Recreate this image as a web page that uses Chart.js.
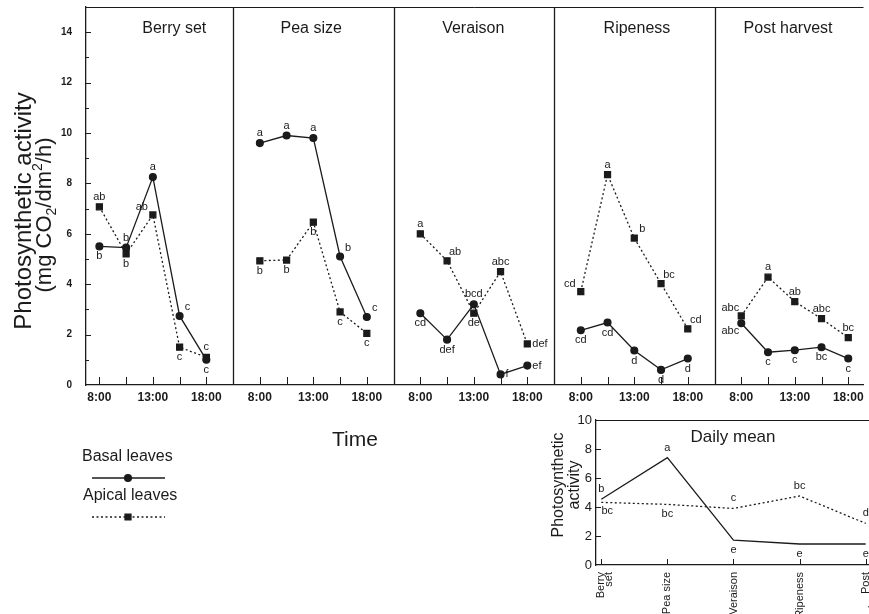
<!DOCTYPE html>
<html><head><meta charset="utf-8">
<script src="https://cdn.jsdelivr.net/npm/chart.js@4.4.1/dist/chart.umd.min.js"></script>
<style>
html,body{margin:0;padding:0;background:#fff;}
#wrap{position:relative;width:869px;height:614px;overflow:hidden;background:#fff;}
#main{position:absolute;left:0;top:0;}
#inset{position:absolute;left:530px;top:410px;}
</style></head><body>
<div id="wrap"><canvas id="main" width="869" height="614"></canvas><canvas id="inset" width="339" height="204"></canvas></div>
<script>
// ---------- DATA ----------
const stages = ['Berry set', 'Pea size', 'Veraison', 'Ripeness', 'Post harvest'];
const timeLabels = ['8:00', '', '13:00', '', '18:00'];
const yTickValues = [0, 2, 4, 6, 8, 10, 12, 14];

const basalBerrySet     = [5.5, 5.45, 8.25, 2.74, 1.0];
const basalPeaSize      = [9.6, 9.9, 9.8, 5.1, 2.7];
const basalVeraison     = [2.85, 1.8, 3.2, 0.42, 0.77];
const basalRipeness     = [2.17, 2.48, 1.37, 0.6, 1.05];
const basalPostHarvest  = [2.45, 1.3, 1.38, 1.5, 1.05];

const apicalBerrySet    = [7.07, 5.2, 6.75, 1.5, 1.1];
const apicalPeaSize     = [4.93, 4.96, 6.46, 2.9, 2.05];
const apicalVeraison    = [6.0, 4.93, 2.85, 4.5, 1.63];
const apicalRipeness    = [3.71, 8.35, 5.83, 4.02, 2.23];
const apicalPostHarvest = [2.74, 4.28, 3.31, 2.63, 1.88];

const basalLetters  = [['b','b','a','c','c'], ['a','a','a','b','c'], ['cd','def','bcd','f','ef'], ['cd','cd','d','d','d'], ['abc','c','c','bc','c']];
const apicalLetters = [['ab','b','ab','c','c'], ['b','b','b','c','c'], ['a','ab','de','abc','def'], ['cd','a','b','bc','cd'], ['abc','a','ab','abc','bc']];

const meanTickLabels = [['Berry','set'], 'Pea size', 'Veraison', 'Ripeness', ['Post','harvest']];
const meanBasal  = [4.53, 7.4, 1.72, 1.45, 1.45];
const meanApical = [4.32, 4.18, 3.9, 4.76, 2.87];
const meanBasalLetters  = ['b', 'a', 'e', 'e', 'e'];
const meanApicalLetters = ['bc', 'bc', 'c', 'bc', 'd'];

// ---------- LAYOUT / STYLE (not data) ----------
const basalPos  = [['b','a','a','ar','b'], ['a','a','a','ar','ar'], ['b','b','a','r','r'], ['b','b','b','b','b'], ['bl','b','b','b','b']];
const apicalPos = [['a','b','al','b','a'], ['b','b','b','b','b'], ['a','ar','b','a','r'], ['al','a','ar','ar','ar'], ['al','a','a','a','a']];
const meanBasalPos  = ['a','a','b','b','b'];
const meanApicalPos = ['br','b','a','a','a'];
const panelSlots = 6;
const titleOffsets = [3.8, 2.92, 2.98, 3.1, 2.75];

const FAM = '"Liberation Sans", Arial, Helvetica, sans-serif';
const INK = '#1b1b1b';
const offsets = {a:[0,-10,'center'], b:[0,10,'center'], ar:[8,-9,'center'], al:[-11,-8,'center'],
                 bl:[-11,8,'center'], br:[6,9,'center'], r:[5,0,'left'], l:[-5,0,'right']};

function build(panels, letters, pos) {
  const pts = [], lt = [], lp = [];
  panels.forEach((arr, i) => {
    arr.forEach((v, j) => { pts.push({x: i * panelSlots + j + 1, y: v}); lt.push(letters[i][j]); lp.push(pos[i][j]); });
    if (i < panels.length - 1) { pts.push({x: i * panelSlots + panelSlots, y: null}); lt.push(''); lp.push('a'); }
  });
  return {pts, lt, lp};
}
const basal = build([basalBerrySet, basalPeaSize, basalVeraison, basalRipeness, basalPostHarvest], basalLetters, basalPos);
const apical = build([apicalBerrySet, apicalPeaSize, apicalVeraison, apicalRipeness, apicalPostHarvest], apicalLetters, apicalPos);
const tickPositions = [];
stages.forEach((s, i) => { for (let j = 1; j <= 5; j++) tickPositions.push(i * panelSlots + j); });
const dividers = stages.slice(1).map((s, i) => (i + 1) * panelSlots);

function line(ctx, x1, y1, x2, y2) { ctx.beginPath(); ctx.moveTo(x1, y1); ctx.lineTo(x2, y2); ctx.stroke(); }

const letterPlugin = {
  id: 'letters',
  afterDatasetsDraw(chart, args, opts) {
    const ctx = chart.ctx;
    ctx.save();
    ctx.font = opts.font; ctx.fillStyle = INK; ctx.textBaseline = 'middle';
    chart.data.datasets.forEach((ds, i) => {
      const meta = chart.getDatasetMeta(i);
      meta.data.forEach((el, k) => {
        const t = ds.letters && ds.letters[k];
        if (!t) return;
        const p = offsets[ds.letterPos[k]] || offsets.a;
        ctx.textAlign = p[2];
        ctx.fillText(t, el.x + p[0], el.y + p[1]);
      });
    });
    ctx.restore();
  }
};

const framePlugin = {
  id: 'frame',
  beforeDatasetsDraw(chart, args, o) {
    const {ctx, chartArea: {left, right, top, bottom}, scales: {x, y}} = chart;
    ctx.save(); ctx.strokeStyle = INK; ctx.lineWidth = 1;
    line(ctx, left, top + 0.5, right, top + 0.5);
    (o.dividers || []).forEach(v => { const px = Math.round(x.getPixelForValue(v)) + 0.5; ctx.lineWidth = 1.3; line(ctx, px, top, px, bottom); });
    ctx.lineWidth = 1;
    x.ticks.forEach(t => { const px = Math.round(x.getPixelForValue(t.value)) + 0.5; line(ctx, px, bottom, px, bottom - o.xTick); });
    y.ticks.forEach(t => {
      if (t.value >= y.max || t.value <= y.min) return;
      const py = Math.round(y.getPixelForValue(t.value)) + 0.5;
      line(ctx, left, py, left + (t.value % 2 === 0 ? o.yMajor : o.yMinor), py);
    });
    ctx.restore();
  }
};

function drawRich(ctx, parts, cx, cy, size) {
  ctx.save(); ctx.translate(cx, cy); ctx.rotate(-Math.PI / 2);
  const small = Math.round(size * 0.62);
  const widths = parts.map(p => { ctx.font = (p[1] === 'n' ? size : small) + 'px ' + FAM; return ctx.measureText(p[0]).width; });
  const total = widths.reduce((a, b) => a + b, 0);
  let xx = -total / 2;
  ctx.textAlign = 'left'; ctx.textBaseline = 'alphabetic';
  parts.forEach((p, i) => {
    ctx.font = (p[1] === 'n' ? size : small) + 'px ' + FAM;
    const dy = p[1] === 'sub' ? size * 0.22 : p[1] === 'sup' ? -size * 0.42 : 0;
    ctx.fillText(p[0], xx, dy); xx += widths[i];
  });
  ctx.restore();
}

const mainText = {
  id: 'mainText',
  afterDraw(chart) {
    const ctx = chart.ctx, x = chart.scales.x;
    ctx.save(); ctx.fillStyle = INK;
    ctx.font = '16px ' + FAM; ctx.textAlign = 'center'; ctx.textBaseline = 'middle';
    stages.forEach((s, i) => ctx.fillText(s, x.getPixelForValue(i * panelSlots + titleOffsets[i]), 29));
    drawRich(ctx, [['Photosynthetic activity', 'n']], 31, 211, 24);
    drawRich(ctx, [['(mg CO', 'n'], ['2', 'sub'], ['/dm', 'n'], ['2', 'sup'], ['/h)', 'n']], 51, 215, 22);
    ctx.font = '21px ' + FAM; ctx.textAlign = 'center';
    ctx.fillText('Time', 355, 440);
    const ds = chart.data.datasets;
    ctx.font = '16px ' + FAM; ctx.textAlign = 'left';
    ctx.fillText(ds[0].label, 82, 457);
    ctx.fillText(ds[1].label, 83, 496);
    [[478, ds[0]], [517, ds[1]]].forEach(([yy, d]) => {
      ctx.strokeStyle = d.borderColor; ctx.lineWidth = d.borderWidth; ctx.setLineDash(d.borderDash || []);
      line(ctx, 92, yy, 165, yy);
      ctx.setLineDash([]); ctx.fillStyle = d.pointBackgroundColor; ctx.strokeStyle = d.pointBorderColor;
      Chart.helpers.drawPoint(ctx, {pointStyle: d.pointStyle, radius: d.pointRadius, rotation: 0, borderWidth: 1}, 128, yy);
      ctx.fillStyle = INK;
    });
    ctx.restore();
  }
};

new Chart(document.getElementById('main'), {
  type: 'line',
  data: {
    datasets: [
      {label: 'Basal leaves', data: basal.pts, letters: basal.lt, letterPos: basal.lp,
       borderColor: INK, borderWidth: 1.3, pointStyle: 'circle', pointRadius: 3.4,
       pointBackgroundColor: INK, pointBorderColor: INK, spanGaps: false, tension: 0},
      {label: 'Apical leaves', data: apical.pts, letters: apical.lt, letterPos: apical.lp,
       borderColor: INK, borderWidth: 1.3, borderDash: [2, 2.5], pointStyle: 'rect', pointRadius: 4.2,
       pointBackgroundColor: INK, pointBorderColor: INK, spanGaps: false, tension: 0}
    ]
  },
  options: {
    responsive: false, animation: false, devicePixelRatio: 1,
    layout: {padding: {top: 7, left: 0, right: 0, bottom: 0}},
    plugins: {legend: {display: false}, tooltip: {enabled: false},
      letters: {font: '11px ' + FAM},
      frame: {dividers: dividers, xTick: 8, yMajor: 5, yMinor: 3}},
    scales: {
      x: {type: 'linear', min: 0.5, max: 29.57,
        afterBuildTicks: s => { s.ticks = tickPositions.map(v => ({value: v})); },
        afterFit: s => { s.height = 614 - 385; s.paddingLeft = 0; s.paddingRight = 0; },
        grid: {display: false, drawTicks: false},
        border: {display: true, color: INK, width: 1.3},
        ticks: {autoSkip: false, maxRotation: 0, minRotation: 0, padding: 5, color: INK,
          font: {family: FAM, size: 12, weight: 'bold'},
          callback: v => timeLabels[(Math.round(v) - 1) % panelSlots]}},
      y: {min: 0, max: 15,
        afterBuildTicks: s => { const t = []; for (let v = 0; v <= 15; v++) t.push({value: v}); s.ticks = t; },
        afterFit: s => { s.width = 86; s.paddingTop = 0; s.paddingBottom = 0; },
        grid: {display: false, drawTicks: false},
        border: {display: true, color: INK, width: 1.3},
        ticks: {padding: 14, color: INK, font: {family: FAM, size: 10, weight: 'bold'},
          callback: v => yTickValues.includes(v) ? String(v) : ''}}
    }
  },
  plugins: [framePlugin, letterPlugin, mainText]
});

const insetText = {
  id: 'insetText',
  afterDraw(chart) {
    const ctx = chart.ctx;
    ctx.save(); ctx.fillStyle = INK;
    ctx.font = '17px ' + FAM; ctx.textAlign = 'center'; ctx.textBaseline = 'middle';
    ctx.fillText('Daily mean', 203, 27);
    drawRich(ctx, [['Photosynthetic', 'n']], 33, 75, 16);
    drawRich(ctx, [['activity', 'n']], 49, 75, 16);
    ctx.restore();
  }
};

new Chart(document.getElementById('inset'), {
  type: 'line',
  data: {
    datasets: [
      {label: 'Basal leaves', data: meanBasal.map((v, i) => ({x: i, y: v})), letters: meanBasalLetters, letterPos: meanBasalPos,
       borderColor: INK, borderWidth: 1.3, pointRadius: 0, tension: 0},
      {label: 'Apical leaves', data: meanApical.map((v, i) => ({x: i, y: v})), letters: meanApicalLetters, letterPos: meanApicalPos,
       borderColor: INK, borderWidth: 1.3, borderDash: [2, 2.5], pointRadius: 0, tension: 0}
    ]
  },
  options: {
    responsive: false, animation: false, devicePixelRatio: 1,
    layout: {padding: {top: 10, left: 0, right: 0, bottom: 0}},
    plugins: {legend: {display: false}, tooltip: {enabled: false},
      letters: {font: '11px ' + FAM},
      frame: {dividers: [], xTick: 6, yMajor: 5, yMinor: 3}},
    scales: {
      x: {type: 'linear', min: -0.08, max: 4.05,
        afterBuildTicks: s => { s.ticks = meanTickLabels.map((l, i) => ({value: i})); },
        afterFit: s => { s.height = 204 - 155; s.paddingLeft = 0; s.paddingRight = 0; },
        grid: {display: false, drawTicks: false},
        border: {display: true, color: INK, width: 1.3},
        ticks: {autoSkip: false, maxRotation: 90, minRotation: 90, padding: 7, color: INK,
          font: {family: FAM, size: 11, lineHeight: 0.7}, callback: v => meanTickLabels[Math.round(v)]}},
      y: {min: 0, max: 10,
        afterBuildTicks: s => { const t = []; for (let v = 0; v <= 10; v++) t.push({value: v}); s.ticks = t; },
        afterFit: s => { s.width = 66; s.paddingTop = 0; s.paddingBottom = 0; },
        grid: {display: false, drawTicks: false},
        border: {display: true, color: INK, width: 1.3},
        ticks: {padding: 4, color: INK, font: {family: FAM, size: 13},
          callback: v => v % 2 === 0 ? String(v) : ''}}
    }
  },
  plugins: [framePlugin, letterPlugin, insetText]
});
</script>
</body></html>
